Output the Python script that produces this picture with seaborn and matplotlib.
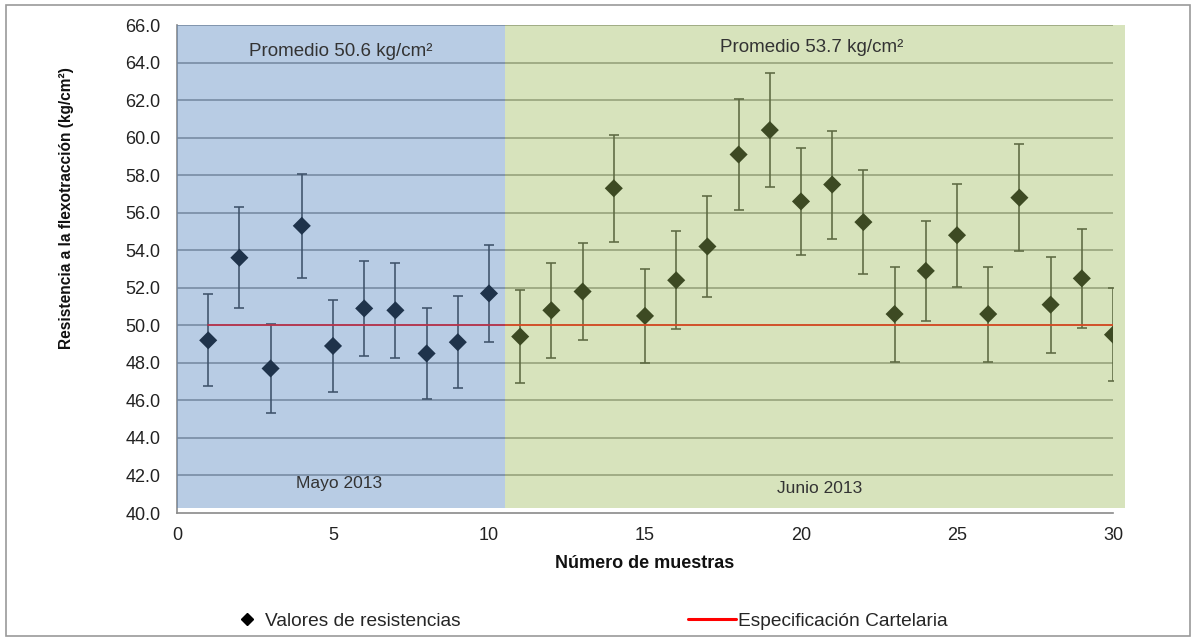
import numpy as np
import pandas as pd
import matplotlib
matplotlib.use("Agg")
import matplotlib.pyplot as plt
import seaborn as sns
from matplotlib.patches import Rectangle
from matplotlib.lines import Line2D

# --- data -------------------------------------------------------------
muestras = list(range(1, 31))
resistencia = [49.2, 53.6, 47.7, 55.3, 48.9, 50.9, 50.8, 48.5, 49.1, 51.7,
               49.4, 50.8, 51.8, 57.3, 50.5, 52.4, 54.2, 59.1, 60.4, 56.6,
               57.5, 55.5, 50.6, 52.9, 54.8, 50.6, 56.8, 51.1, 52.5, 49.5]
especificacion = [50.0] * 30
error_pct = 5  # percentage error bars on each measurement

periodos = ["Mayo 2013", "Junio 2013"]
promedios = [50.6, 53.7]
limite_periodo = 10.5

y_ticks = [40, 42, 44, 46, 48, 50, 52, 54, 56, 58, 60, 62, 64, 66]
x_ticks = [0, 5, 10, 15, 20, 25, 30]

df = pd.DataFrame({"muestra": muestras, "resistencia": resistencia,
                   "especificacion": especificacion})

# --- figure -----------------------------------------------------------
sns.set_theme(style="white")
plt.rcParams["font.family"] = ["Liberation Sans", "DejaVu Sans"]

W, H = 1196, 641
fig = plt.figure(figsize=(W / 100, H / 100), dpi=100)
ax = fig.add_axes([177 / W, 1 - 513 / H, (1113 - 177) / W, (513 - 25) / H])

# horizontal gridlines
for yt in y_ticks[1:]:
    ax.axhline(yt, color="#8a8a8a", lw=1.1, zorder=1)

# error bars and points
err = [v * error_pct / 100 for v in resistencia]
ax.errorbar(muestras, resistencia, yerr=err, fmt="none", ecolor="#333333",
            elinewidth=1.15, capsize=3.8, capthick=1.15, zorder=2)
sns.scatterplot(data=df, x="muestra", y="resistencia", marker="D", s=85,
                color="black", edgecolor="none", ax=ax, zorder=3, legend=False)

# specification line
sns.lineplot(data=df, x="muestra", y="especificacion", color="#ff0000", lw=1.3,
             ax=ax, zorder=4, legend=False)

# translucent period shading drawn over the data
ax.add_patch(Rectangle((0, 40.25), limite_periodo, 25.75, facecolor="#4F81BD",
                       alpha=0.4, edgecolor="none", zorder=5, clip_on=False))
ax.add_patch(Rectangle((limite_periodo, 40.25), 30.4 - limite_periodo, 25.75,
                       facecolor="#9BBB59", alpha=0.4, edgecolor="none", zorder=5,
                       clip_on=False))

# period annotations
txt_kw = dict(ha="center", va="center", color="#333333", zorder=6)
ax.text(5.25, 64.6, f"Promedio {promedios[0]} kg/cm²", fontsize=13.5, **txt_kw)
ax.text(20.35, 64.8, f"Promedio {promedios[1]} kg/cm²", fontsize=13.5, **txt_kw)
ax.text(5.2, 41.55, periodos[0], fontsize=12.5, **txt_kw)
ax.text(20.6, 41.3, periodos[1], fontsize=12.5, **txt_kw)

# axes styling
ax.set_xlim(0, 30)
ax.set_ylim(40, 66)
ax.set_xticks(x_ticks)
ax.set_xticklabels([str(v) for v in x_ticks])
ax.set_yticks(y_ticks)
ax.set_yticklabels([f"{v:.1f}" for v in y_ticks])
ax.tick_params(axis="both", labelsize=13, colors="#222222", length=0)
ax.tick_params(axis="y", pad=12)
ax.tick_params(axis="x", pad=10)
for side in ["top", "right"]:
    ax.spines[side].set_visible(False)
for side in ["left", "bottom"]:
    ax.spines[side].set_color("#8a8a8a")
    ax.spines[side].set_linewidth(1.2)
ax.set_xlabel("Número de muestras", fontsize=13, fontweight="bold",
              color="#111111", labelpad=8)
ax.set_ylabel("")
fig.text(67 / W, 1 - 208 / H, "Resistencia a la flexotracción (kg/cm²)",
         rotation=90, ha="center", va="center", fontsize=11.2, fontweight="bold",
         color="#111111")

# legend entries placed individually
leg1 = fig.legend([Line2D([], [], marker="D", color="black", ls="none", markersize=6.5)],
                  ["Valores de resistencias"], loc="center left",
                  bbox_to_anchor=(235 / W, 1 - 621 / H), frameon=False, fontsize=13.8,
                  handlelength=1.2, handletextpad=0.35, borderpad=0, borderaxespad=0)
leg2 = fig.legend([Line2D([], [], color="#ff0000", lw=2.2)],
                  ["Especificación Cartelaria"], loc="center left",
                  bbox_to_anchor=(688 / W, 1 - 621 / H), frameon=False, fontsize=13.8,
                  handlelength=2.5, handletextpad=0.1, borderpad=0, borderaxespad=0)

# outer chart border
fig.patches.append(Rectangle((6 / W, 5 / H), 1184 / W, 631 / H,
                             transform=fig.transFigure, fill=False,
                             edgecolor="#9a9a9a", lw=1.2))

fig.savefig("out.png", dpi=100)
